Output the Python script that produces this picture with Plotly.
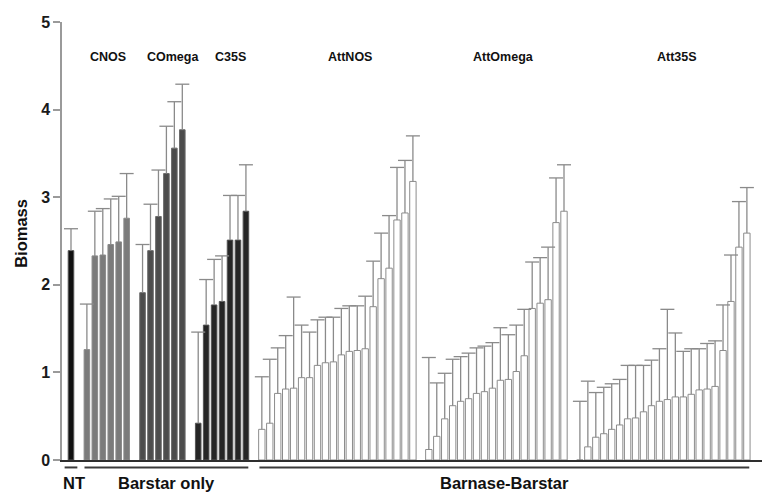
import plotly.graph_objects as go

# Biomass per line (bar height) and top of the error bar (mean + error)
nt_mean = [2.39]
nt_top = [2.64]

cnos_mean = [1.26, 2.33, 2.34, 2.46, 2.49, 2.76]
cnos_top = [1.78, 2.84, 2.87, 2.98, 3.01, 3.27]

comega_mean = [1.91, 2.39, 2.78, 3.27, 3.56, 3.77]
comega_top = [2.46, 2.92, 3.31, 3.81, 4.09, 4.29]

c35s_mean = [0.42, 1.54, 1.77, 1.81, 2.51, 2.51, 2.84]
c35s_top = [1.46, 2.06, 2.29, 2.33, 3.02, 3.02, 3.37]

attnos_mean = [0.35, 0.42, 0.76, 0.81, 0.82, 0.94, 0.94, 1.08, 1.11, 1.12,
               1.20, 1.24, 1.25, 1.27, 1.75, 2.07, 2.19, 2.74, 2.82, 3.18]
attnos_top = [0.95, 1.15, 1.28, 1.42, 1.86, 1.54, 1.46, 1.60, 1.63, 1.63,
              1.73, 1.76, 1.76, 1.87, 2.27, 2.59, 2.79, 3.34, 3.42, 3.70]

attomega_mean = [0.12, 0.27, 0.47, 0.62, 0.67, 0.70, 0.76, 0.78, 0.82,
                 0.91, 0.92, 1.01, 1.19, 1.73, 1.79, 1.83, 2.71, 2.84]
attomega_top = [1.17, 0.88, 0.99, 1.15, 1.18, 1.22, 1.28, 1.30, 1.34,
                1.51, 1.43, 1.54, 1.72, 2.26, 2.31, 2.43, 3.22, 3.37]

att35s_mean = [0.0, 0.15, 0.26, 0.30, 0.35, 0.40, 0.47, 0.48, 0.55, 0.62, 0.67,
               0.69, 0.72, 0.72, 0.75, 0.80, 0.81, 0.84, 1.25, 1.81, 2.43, 2.59]
att35s_top = [0.67, 0.90, 0.77, 0.83, 0.87, 0.92, 1.08, 1.08, 1.08, 1.14, 1.27,
              1.72, 1.45, 1.24, 1.27, 1.27, 1.33, 1.36, 1.77, 2.34, 2.95, 3.11]

group_names = ["NT", "CNOS", "COmega", "C35S", "AttNOS", "AttOmega", "Att35S"]
group_means = [nt_mean, cnos_mean, comega_mean, c35s_mean,
               attnos_mean, attomega_mean, att35s_mean]
group_tops = [nt_top, cnos_top, comega_top, c35s_top,
              attnos_top, attomega_top, att35s_top]

y_ticks = [0, 1, 2, 3, 4, 5]
axis_title = "Biomass"

# Sections underlined below the axis: (label, first group index, last group index)
sections = [("NT", 0, 0), ("Barstar only", 1, 3), ("Barnase-Barstar", 4, 6)]

# ---- styling ----
fill_colors = ["#111111", "#7b7b7b", "#4c4c4c", "#262626",
               "#ffffff", "#ffffff", "#ffffff"]
outline_colors = ["#555555", "#8a8a8a", "#6a6a6a", "#555555",
                  "#8c8c8c", "#8c8c8c", "#8c8c8c"]
bar_widths = [0.7, 0.7, 0.7, 0.7, 0.8, 0.8, 0.8]
label_shift = [0, 0.15, 1.33, 1.0, 1.6, 0.95, 1.7]   # nudges for group captions (x units)
section_pad = [0.8, 0.3, 0.3]
section_shift = [0.4, 0.0, 0.0]
cap_half = 0.88
err_color = "#8a8a8a"
font_family = "Liberation Sans, Arial, sans-serif"

# x slots: one empty slot between consecutive groups
group_pos = []
start = 0
for means in group_means:
    group_pos.append([start + i for i in range(len(means))])
    start += len(means) + 1

fig = go.Figure()

for g, name in enumerate(group_names):
    fig.add_trace(go.Bar(
        x=group_pos[g], y=group_means[g], name=name, width=bar_widths[g],
        marker=dict(color=fill_colors[g],
                    line=dict(color=outline_colors[g], width=1)),
        showlegend=False, hoverinfo="skip",
    ))

# Upper error bars: stem from bar top to cap, plus the cap itself
ex, ey = [], []
for g in range(len(group_names)):
    for x, m, t in zip(group_pos[g], group_means[g], group_tops[g]):
        ex += [x, x, None, x - cap_half, x + cap_half, None]
        ey += [m, t, None, t, t, None]
fig.add_trace(go.Scatter(
    x=ex, y=ey, mode="lines", line=dict(color=err_color, width=1.3),
    showlegend=False, hoverinfo="skip",
))

annotations = []
for g, name in enumerate(group_names[1:], start=1):
    pos = group_pos[g]
    annotations.append(dict(
        x=(pos[0] + pos[-1]) / 2 + label_shift[g], y=0.919, xref="x", yref="paper",
        xanchor="center", yanchor="middle",
        text=name, showarrow=False,
        font=dict(family=font_family, size=12.5, color="#111111", weight="bold"),
    ))

shapes = []
for (label, g0, g1), pad, shift in zip(sections, section_pad, section_shift):
    x0 = group_pos[g0][0] - pad
    x1 = group_pos[g1][-1] + pad
    shapes.append(dict(type="line", xref="x", yref="paper", x0=x0, x1=x1,
                       y0=-0.017, y1=-0.017, line=dict(color="#3a3a3a", width=2)))
    annotations.append(dict(
        x=(group_pos[g0][0] + group_pos[g1][-1]) / 2 + shift, y=-0.053,
        xref="x", yref="paper", xanchor="center", yanchor="middle",
        text=label, showarrow=False,
        font=dict(family=font_family, size=16.5, color="#111111", weight="bold"),
    ))

annotations.append(dict(
    x=-0.059, y=0.518, xref="paper", yref="paper", text=axis_title,
    xanchor="center", yanchor="middle",
    textangle=-90, showarrow=False,
    font=dict(family=font_family, size=16.5, color="#111111", weight="bold"),
))

x_last = group_pos[-1][-1]
fig.update_layout(
    width=762, height=494,
    margin=dict(l=62, r=0, t=22, b=34),
    paper_bgcolor="white", plot_bgcolor="white",
    barmode="overlay",
    font=dict(family=font_family),
    xaxis=dict(range=[-1.13, x_last + 1.9], showgrid=False, zeroline=False,
               showticklabels=False, ticks="", showline=True,
               linecolor="#2e2e2e", linewidth=2),
    yaxis=dict(range=[0, 5], tickvals=y_ticks, showgrid=False, zeroline=False,
               showline=True, linecolor="#9a9a9a", linewidth=1.5,
               ticks="outside", ticklen=7, tickcolor="#9a9a9a", tickwidth=1.5,
               tickfont=dict(family=font_family, size=16, color="#1a1a1a",
                             weight="bold")),
    annotations=annotations,
    shapes=shapes,
)

fig.write_html("out.html")
